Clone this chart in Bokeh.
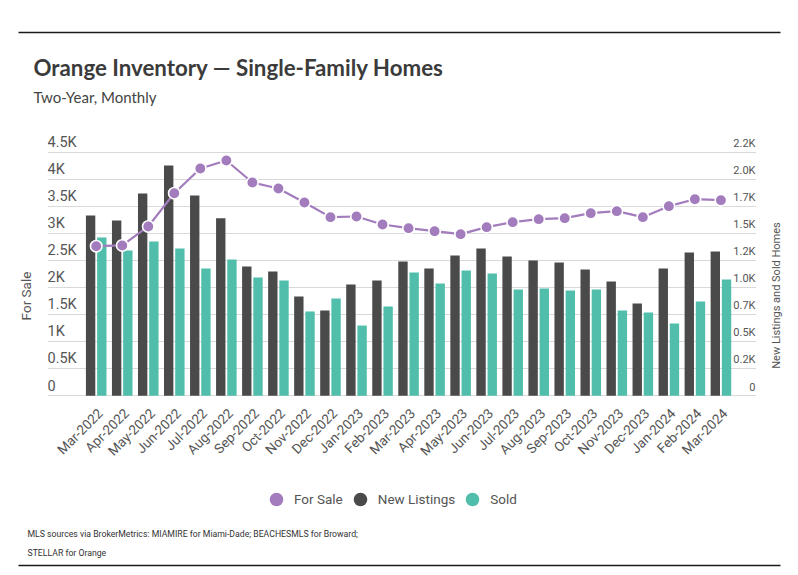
from math import pi
from bokeh.plotting import figure
from bokeh.models import (Range1d, FixedTicker, ColumnDataSource,
                          Legend, LegendItem, Label, BoxAnnotation)
from bokeh.layouts import column, row
from bokeh.transform import dodge
from bokeh.core.properties import value
from bokeh.embed import file_html
from bokeh.resources import INLINE

# ---------------- data ----------------
months = ["Mar-2022", "Apr-2022", "May-2022", "Jun-2022", "Jul-2022", "Aug-2022",
          "Sep-2022", "Oct-2022", "Nov-2022", "Dec-2022", "Jan-2023", "Feb-2023",
          "Mar-2023", "Apr-2023", "May-2023", "Jun-2023", "Jul-2023", "Aug-2023",
          "Sep-2023", "Oct-2023", "Nov-2023", "Dec-2023", "Jan-2024", "Feb-2024",
          "Mar-2024"]
for_sale = [2764, 2777, 3128, 3743, 4199, 4347, 3940, 3830, 3571, 3300, 3312, 3165,
            3097, 3041, 2986, 3115, 3208, 3263, 3282, 3374, 3411, 3300, 3503, 3632, 3614]
new_listings = [1665, 1619, 1869, 2127, 1851, 1640, 1194, 1148, 917, 788, 1028, 1065,
                1240, 1176, 1296, 1360, 1287, 1250, 1231, 1167, 1056, 853, 1176, 1324, 1333]
sold = [1462, 1342, 1425, 1360, 1176, 1259, 1093, 1065, 779, 899, 649, 825,
        1139, 1037, 1157, 1130, 982, 991, 973, 982, 788, 769, 668, 871, 1074]
left_ticks = [0, 500, 1000, 1500, 2000, 2500, 3000, 3500, 4000, 4500]
left_tick_labels = ["0", "0.5K", "1K", "1.5K", "2K", "2.5K", "3K", "3.5K", "4K", "4.5K"]
right_ticks = [0, 250, 500, 750, 1000, 1250, 1500, 1750, 2000, 2250]
right_tick_labels = ["0", "0.2K", "0.5K", "0.7K", "1.0K", "1.2K", "1.5K", "1.7K", "2.0K", "2.2K"]

title_text = "Orange Inventory \u2014 Single-Family Homes"
subtitle_text = "Two-Year, Monthly"
left_title = "For Sale"
right_title = "New Listings and Sold Homes"
footer_1 = "MLS sources via BrokerMetrics: MIAMIRE for Miami-Dade; BEACHESMLS for Broward;"
footer_2 = "STELLAR for Orange"

# ---------------- style ----------------
PURPLE = "#A27CBC"
DARK = "#4A4A4A"
TEAL = "#50BEAB"
GRID = "#D9D9D9"
TXT = "#555555"
BODY = "Roboto"
HEAD = "Lato"
W = 798

X0, X1 = -1.871, 25.367
Y0, Y1 = -1453.8, 5141.0

idx = list(range(len(months)))
src = ColumnDataSource(dict(x=idx, month=months, for_sale=for_sale,
                            new=new_listings, sold=sold))


def bare(width, height):
    f = figure(width=width, height=height, x_range=Range1d(0, width),
               y_range=Range1d(0, height), x_axis_location=None, y_axis_location=None,
               min_border=0, min_border_left=0, min_border_right=0, min_border_top=0,
               min_border_bottom=0, output_backend="svg", toolbar_location=None,
               title=None, frame_align=False)
    f.outline_line_color = None
    f.grid.visible = False
    return f


# ---------------- header ----------------
head = bare(W, 117)
head.add_layout(BoxAnnotation(left=18, right=780, bottom=84.2, top=85.8,
                              fill_color="#1a1a1a", fill_alpha=1, line_color=None))
head.add_layout(Label(x=33, y=50, text=title_text, text_font=HEAD, text_font_size="22.3px",
                      text_font_style="bold", text_color="#3b3b3b",
                      text_baseline="middle", text_align="left"))
head.add_layout(Label(x=33, y=21, text=subtitle_text, text_font=HEAD,
                      text_font_size="15px", text_color="#444444",
                      text_baseline="middle", text_align="left"))

# ---------------- main chart ----------------
p = figure(width=760, height=357, x_range=Range1d(X0, X1), y_range=Range1d(Y0, Y1),
           x_axis_location=None, output_backend="svg", toolbar_location=None, title=None,
           min_border_left=47, min_border_right=4, min_border_top=0, min_border_bottom=0,
           frame_align=False)
p.extra_y_ranges = {"right": Range1d(Y0 / 2, Y1 / 2)}
p.outline_line_color = None
p.xgrid.visible = False
p.ygrid.ticker = FixedTicker(ticks=left_ticks)
p.ygrid.grid_line_color = GRID

ya = p.yaxis[0]
ya.ticker = FixedTicker(ticks=[])
ya.axis_line_color = None
ya.major_tick_line_color = None
ya.minor_tick_line_color = None
ya.major_tick_out = 0
ya.minor_tick_out = 0
ya.major_label_standoff = 0
ya.axis_label = left_title
ya.axis_label_text_font = BODY
ya.axis_label_text_font_size = "13.5px"
ya.axis_label_text_font_style = "normal"
ya.axis_label_text_color = TXT
ya.axis_label_standoff = 14

# bars
p.vbar(x=dodge("x", -0.215), top="new", width=0.36, source=src, y_range_name="right",
       fill_color=DARK, line_color=None)
p.vbar(x=dodge("x", 0.215), top="sold", width=0.36, source=src, y_range_name="right",
       fill_color=TEAL, line_color=None)

# for-sale line
p.line("x", "for_sale", source=src, line_color=PURPLE, line_width=2.2)
p.scatter("x", "for_sale", source=src, size=11.5, fill_color=PURPLE,
          line_color="white", line_width=1.6)

# tick labels
p.text(x=X0, y=left_ticks, text=left_tick_labels, text_align="left",
       text_baseline="alphabetic", y_offset=-10, text_font=value(BODY),
       text_font_size="14.5px", text_color=TXT)
p.text(x=X1, y=right_ticks, text=right_tick_labels, y_range_name="right",
       text_align="right", text_baseline="alphabetic", x_offset=-1, y_offset=-9,
       text_font=value(BODY), text_font_size="11px", text_color=TXT)
p.text(x="x", y=0, text="month", source=src, angle=pi / 4, text_align="right",
       text_baseline="middle", x_offset=4, y_offset=15, text_font=value(BODY),
       text_font_size="13.5px", text_color=TXT)

# right axis title
side = bare(38, 357)
side.text(x=15.7, y=179, text=[right_title], angle=pi / 2, text_align="center",
          text_baseline="middle", text_font=value(BODY), text_font_size="11px",
          text_color=TXT)

# ---------------- footer ----------------
foot = bare(W, 101)
leg_fs = foot.scatter("x", "for_sale", source=src, fill_color=PURPLE, line_color=None,
                      visible=False)
leg_new = foot.scatter("x", "new", source=src, fill_color=DARK, line_color=None,
                       visible=False)
leg_sold = foot.scatter("x", "sold", source=src, fill_color=TEAL, line_color=None,
                        visible=False)
legend = Legend(items=[LegendItem(label="For Sale", renderers=[leg_fs]),
                       LegendItem(label="New Listings", renderers=[leg_new]),
                       LegendItem(label="Sold", renderers=[leg_sold])],
                orientation="horizontal", location=(259, 59),
                glyph_width=34, glyph_height=34, label_standoff=1, spacing=0,
                padding=0, margin=0, border_line_color=None, background_fill_alpha=0,
                label_text_font=BODY, label_text_font_size="13.5px",
                label_text_color=TXT, click_policy="none")
foot.add_layout(legend)
foot.add_layout(Label(x=27, y=42, text=footer_1, text_font=BODY, text_font_size="8.7px",
                      text_color="#333333", text_baseline="middle", text_align="left"))
foot.add_layout(Label(x=27, y=23, text=footer_2, text_font=BODY, text_font_size="8.7px",
                      text_color="#333333", text_baseline="middle", text_align="left"))
foot.add_layout(BoxAnnotation(left=18, right=780, bottom=9.2, top=10.8,
                              fill_color="#1a1a1a", fill_alpha=1, line_color=None))

layout = column(head, row(p, side, spacing=0), foot, spacing=0)
open("out.html", "w").write(file_html(layout, INLINE))
